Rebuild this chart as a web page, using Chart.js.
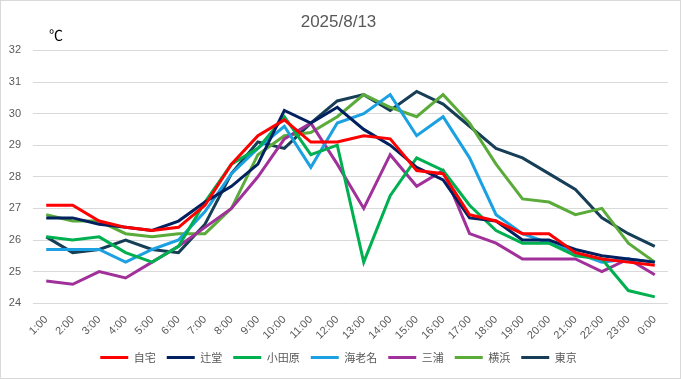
<!DOCTYPE html>
<html>
<head>
<meta charset="utf-8">
<script src="https://cdn.jsdelivr.net/npm/chart.js@4.4.1/dist/chart.umd.min.js"></script>
<style>
html,body{margin:0;padding:0;background:#fff;}
#wrap{width:681px;height:379px;box-sizing:border-box;border:1px solid #d9d9d9;position:relative;}
canvas{display:block;}
</style>
</head>
<body>
<div id="wrap"><canvas id="c" width="679" height="377"></canvas></div>
<script>
const hours = ["1:00","2:00","3:00","4:00","5:00","6:00","7:00","8:00","9:00","10:00","11:00","12:00","13:00","14:00","15:00","16:00","17:00","18:00","19:00","20:00","21:00","22:00","23:00","0:00"];
const jitaku   = [27.1,27.1,26.6,26.4,26.3,26.4,27.1,28.4,29.3,29.8,29.1,29.1,29.3,29.2,28.2,28.1,26.8,26.6,26.2,26.2,25.6,25.4,25.3,25.2];
const tsujido  = [26.7,26.7,26.5,26.4,26.3,26.6,27.2,27.7,28.4,30.1,29.7,30.2,29.5,29.0,28.3,27.9,26.7,26.6,26.0,26.0,25.7,25.5,25.4,25.3];
const odawara  = [26.1,26.0,26.1,25.6,25.3,25.8,27.2,28.4,28.9,29.9,28.7,29.0,25.3,27.4,28.6,28.2,27.1,26.3,25.9,25.9,25.5,25.4,24.4,24.2];
const ebina    = [25.7,25.7,25.7,25.3,25.7,26.0,26.9,28.1,28.9,29.6,28.3,29.7,30.0,30.6,29.3,29.9,28.6,26.8,26.2,25.9,25.6,25.3,25.4,25.3];
const miura    = [24.7,24.6,25.0,24.8,25.3,25.8,26.4,27.0,28.0,29.2,29.7,28.4,27.0,28.7,27.7,28.2,26.2,25.9,25.4,25.4,25.4,25.0,25.4,24.9];
const yokohama = [26.8,26.6,26.6,26.2,26.1,26.2,26.2,27.0,28.7,29.3,29.4,29.9,30.6,30.2,29.9,30.6,29.7,28.4,27.3,27.2,26.8,27.0,25.9,25.3];
const tokyo    = [26.1,25.6,25.7,26.0,25.7,25.6,26.5,28.1,29.1,28.9,29.7,30.4,30.6,30.1,30.7,30.3,29.6,28.9,28.6,28.1,27.6,26.7,26.2,25.8];
const seriesNames = ["自宅","辻堂","小田原","海老名","三浦","横浜","東京"];
const yTicks = [24,25,26,27,28,29,30,31,32];
const titleText = "2025/8/13";
const unitText = "℃";

const colors = ["#FF0000","#002060","#00B050","#1BA1E2","#A0309A","#5AAB3A","#163E56"];
const dataArr = [jitaku,tsujido,odawara,ebina,miura,yokohama,tokyo];

const unitPlugin = {
  id:'unit',
  afterDraw(chart){
    const ctx = chart.ctx;
    ctx.save();
    ctx.font = '14px "Noto Sans CJK JP", sans-serif';
    ctx.fillStyle = '#000';
    ctx.textAlign = 'left';
    ctx.textBaseline = 'middle';
    ctx.fillText(unitText, chart.chartArea.left + 16, chart.chartArea.top - 16);
    ctx.restore();
  }
};

new Chart(document.getElementById('c'), {
  type:'line',
  data:{
    labels: hours,
    datasets: seriesNames.map((n,i)=>({
      label:n, data:dataArr[i], borderColor:colors[i], backgroundColor:colors[i],
      borderWidth:3, pointRadius:0, tension:0, fill:false
    }))
  },
  options:{
    responsive:false, animation:false,
    layout:{padding:{left:8,right:12,top:0,bottom:5}},
    plugins:{
      title:{display:true,text:titleText,color:'#595959',font:{size:17,family:'"Liberation Sans", Arial, sans-serif',weight:'normal'},padding:{top:11,bottom:18}},
      legend:{position:'bottom',labels:{usePointStyle:true,pointStyle:'line',pointStyleWidth:28,color:'#595959',font:{size:11,family:'"Noto Sans CJK JP", sans-serif'},padding:11}},
      tooltip:{enabled:false}
    },
    scales:{
      x:{offset:true,grid:{display:false},border:{display:false},
        afterFit(s){s.height -= 3;},
        ticks:{color:'#595959',minRotation:45,maxRotation:45,font:{size:11,family:'"Liberation Sans", Arial, sans-serif'},padding:2}},
      y:{min:24,max:32,afterFit(s){s.width=24;},
        afterBuildTicks(s){s.ticks = yTicks.map(v=>({value:v}));},
        grid:{color:'#d9d9d9',drawTicks:false,lineWidth:1},border:{display:false},
        ticks:{color:'#595959',font:{size:11,family:'"Liberation Sans", Arial, sans-serif'},padding:12}}
    }
  },
  plugins:[unitPlugin]
});
</script>
</body>
</html>
